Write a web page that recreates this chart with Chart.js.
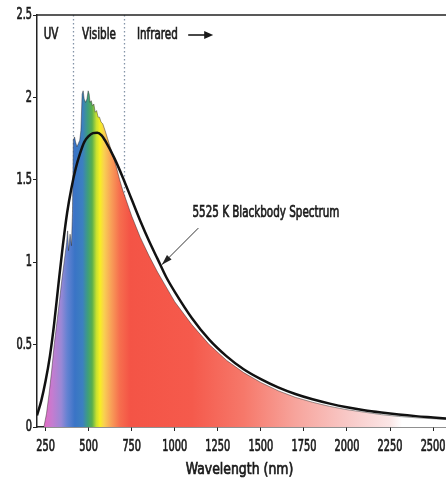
<!DOCTYPE html>
<html>
<head>
<meta charset="utf-8">
<script src="https://cdn.jsdelivr.net/npm/chart.js@4.4.1/dist/chart.umd.min.js"></script>
<style>
  html, body { margin: 0; padding: 0; background: #fff; overflow: hidden; }
  #wrap { width: 446px; height: 486px; }
</style>
</head>
<body>
<div id="wrap"><canvas id="spectrum"></canvas></div>
<script>
// Blackbody curve (5525 K)
const bbNm  = [200, 225, 250, 275, 300, 325, 350, 375, 400, 425, 450, 475, 500, 525, 550, 575, 600, 650, 700, 750, 800, 850, 900, 950, 1000, 1100, 1200, 1300, 1400, 1500, 1600, 1700, 1800, 1900, 2000, 2100, 2200, 2300, 2400, 2500, 2575];
const bbVal = [0.07, 0.16, 0.28, 0.43, 0.63, 0.87, 1.1, 1.3, 1.45, 1.57, 1.66, 1.73, 1.765, 1.783, 1.786, 1.77, 1.73, 1.63, 1.51, 1.38, 1.25, 1.13, 1.02, 0.91, 0.82, 0.66, 0.53, 0.43, 0.35, 0.29, 0.24, 0.2, 0.168, 0.142, 0.12, 0.102, 0.088, 0.076, 0.066, 0.058, 0.052];

// measured (coloured) spectrum
const sunNm  = [240, 255, 270, 285, 300, 315, 330, 345, 360, 372, 378, 383, 392, 400, 406, 411, 418, 424, 432, 440, 448, 455, 462, 468, 474, 482, 490, 497, 503, 508, 515, 522, 530, 538, 546, 555, 563, 572, 582, 595, 610, 625, 640, 660, 680, 700, 750, 800, 850, 900, 950, 1000, 1100, 1200, 1300, 1400, 1500, 1600, 1700, 1800, 1900, 2000, 2100, 2200, 2300, 2400, 2500, 2575];
const sunVal = [0, 0.08, 0.2, 0.34, 0.5, 0.63, 0.76, 0.9, 1.02, 1.12, 1.19, 1.07, 1.17, 1.1, 1.3, 1.74, 1.76, 1.73, 1.7, 1.72, 1.74, 1.8, 2.02, 2.04, 1.99, 1.97, 1.99, 2.04, 2.02, 1.97, 1.98, 1.95, 1.96, 1.91, 1.92, 1.88, 1.88, 1.85, 1.84, 1.8, 1.75, 1.7, 1.65, 1.58, 1.5, 1.43, 1.28, 1.15, 1.04, 0.94, 0.85, 0.76, 0.62, 0.5, 0.405, 0.33, 0.27, 0.22, 0.18, 0.15, 0.125, 0.105, 0.09, 0.075, 0.064, 0.056, 0.05, 0.046];

const xTicks = [250, 500, 750, 1000, 1250, 1500, 1750, 2000, 2250, 2500];
const yTicks = [0, 0.5, 1, 1.5, 2, 2.5];
const bandLines = [410, 708];

// colour of the fill along the wavelength axis
const stops = [
  [240, '#e46cc4'], [290, '#c47cd0'], [340, '#9a88d6'], [375, '#6482d2'],
  [420, '#3a74c6'], [465, '#3c80c0'], [495, '#3e9e7c'], [520, '#5aae4e'],
  [545, '#c8e030'], [565, '#f6ef22'], [590, '#f9cf52'], [630, '#f8a058'],
  [680, '#f66e4e'], [740, '#f45446'], [1100, '#f55a4c'], [1400, '#f6786a'],
  [1700, '#f7a49c'], [2000, '#f8c8c6'], [2250, '#fbe6e6'], [2320, '#ffffff']
];

const FONT = "'DejaVu Sans Condensed', 'DejaVu Sans', sans-serif";
const INK = '#1a1a1a';

// condensed, medium-weight text: the original uses a narrow face
function squeeze(ctx, text, x, y, align, size, sx) {
    ctx.save();
    ctx.font = size + 'px ' + FONT;
    ctx.textAlign = align;
    ctx.translate(x, y);
    ctx.scale(sx, 1);
    ctx.strokeStyle = INK;
    ctx.lineWidth = 0.7;
    ctx.setLineDash([]);
    ctx.fillText(text, 0, 0);
    ctx.strokeText(text, 0, 0);
    ctx.restore();
}

function fillGradient(context) {
    const chart = context.chart;
    const area = chart.chartArea;
    if (!area) return null;
    const x = chart.scales.x;
    const g = chart.ctx.createLinearGradient(area.left, 0, area.right, 0);
    stops.forEach(s => {
        let p = (x.getPixelForValue(s[0]) - area.left) / (area.right - area.left);
        p = Math.min(1, Math.max(0, p));
        g.addColorStop(p, s[1]);
    });
    return g;
}

const extras = {
    id: 'extras',
    beforeDatasetsDraw(chart) {
        const {ctx, chartArea: a, scales: {x}} = chart;
        ctx.save();
        ctx.strokeStyle = '#8494a8';
        ctx.lineWidth = 1.3;
        ctx.setLineDash([1.5, 2.5]);
        bandLines.forEach(v => {
            const px = Math.round(x.getPixelForValue(v)) + 0.5;
            ctx.beginPath();
            ctx.moveTo(px, a.top);
            ctx.lineTo(px, a.bottom);
            ctx.stroke();
        });
        ctx.restore();
    },
    afterDraw(chart) {
        const {ctx, chartArea: a, scales: {x, y}} = chart;
        ctx.save();
        // top border of the box
        ctx.strokeStyle = '#222';
        ctx.lineWidth = 1.5;
        ctx.beginPath();
        ctx.moveTo(a.left, a.top);
        ctx.lineTo(a.right, a.top);
        ctx.stroke();

        ctx.fillStyle = INK;

        // tick labels
        ctx.textBaseline = 'alphabetic';
        xTicks.forEach(v => squeeze(ctx, String(v), x.getPixelForValue(v), a.bottom + 24, 'center', 16, 0.68));
        ctx.textBaseline = 'middle';
        yTicks.forEach(v => squeeze(ctx, String(v), a.left - 5, y.getPixelForValue(v), 'right', 16, 0.68));

        // axis title
        ctx.textBaseline = 'alphabetic';
        squeeze(ctx, 'Wavelength (nm)', (a.left + a.right) / 2 - 2, a.bottom + 47, 'center', 16.5, 0.84);

        // region labels
        ctx.textBaseline = 'middle';
        const ty = a.top + 20;
        squeeze(ctx, 'UV', x.getPixelForValue(282), ty, 'center', 16, 0.72);
        squeeze(ctx, 'Visible', x.getPixelForValue(560), ty, 'center', 16, 0.72);
        squeeze(ctx, 'Infrared', x.getPixelForValue(780), ty, 'left', 16, 0.72);

        // arrow after Infrared
        ctx.strokeStyle = INK;
        ctx.lineWidth = 1.6;
        const ax = x.getPixelForValue(1078);
        ctx.beginPath();
        ctx.moveTo(ax, ty);
        ctx.lineTo(ax + 19, ty);
        ctx.stroke();
        ctx.beginPath();
        ctx.moveTo(ax + 25, ty);
        ctx.lineTo(ax + 16, ty - 4);
        ctx.lineTo(ax + 16, ty + 4);
        ctx.closePath();
        ctx.fill();

        // blackbody label and pointer
        squeeze(ctx, '5525 K Blackbody Spectrum', x.getPixelForValue(1103), y.getPixelForValue(1.3), 'left', 16, 0.72);
        const x0 = x.getPixelForValue(1137), y0 = y.getPixelForValue(1.207);
        const x1 = x.getPixelForValue(925), y1 = y.getPixelForValue(0.985);
        ctx.strokeStyle = '#333';
        ctx.lineWidth = 1;
        ctx.beginPath();
        ctx.moveTo(x0, y0);
        ctx.lineTo(x1, y1);
        ctx.stroke();
        const ang = Math.atan2(y1 - y0, x1 - x0);
        ctx.fillStyle = '#222';
        ctx.beginPath();
        ctx.moveTo(x1, y1);
        ctx.lineTo(x1 - 11 * Math.cos(ang - 0.3), y1 - 11 * Math.sin(ang - 0.3));
        ctx.lineTo(x1 - 11 * Math.cos(ang + 0.3), y1 - 11 * Math.sin(ang + 0.3));
        ctx.closePath();
        ctx.fill();
        ctx.restore();
    }
};

new Chart(document.getElementById('spectrum'), {
    type: 'line',
    data: {
        datasets: [
            {
                label: 'Blackbody',
                data: bbNm.map((n, i) => ({x: n, y: bbVal[i]})),
                borderColor: '#111',
                borderWidth: 2.5,
                pointRadius: 0,
                fill: false,
                cubicInterpolationMode: 'monotone'
            },
            {
                label: 'Spectrum',
                data: sunNm.map((n, i) => ({x: n, y: sunVal[i]})),
                borderColor: 'rgba(40,40,40,0.45)',
                borderWidth: 1,
                pointRadius: 0,
                fill: 'origin',
                backgroundColor: fillGradient,
                tension: 0
            }
        ]
    },
    options: {
        responsive: true,
        maintainAspectRatio: false,
        animation: false,
        layout: { padding: { top: 15, right: 0, left: 0, bottom: 0 } },
        plugins: { legend: { display: false }, tooltip: { enabled: false } },
        scales: {
            x: {
                type: 'linear',
                min: 200,
                max: 2575,
                afterFit: s => { s.height = 59; s.paddingLeft = 0; s.paddingRight = 0; },
                afterBuildTicks: s => { s.ticks = xTicks.map(v => ({value: v})); },
                grid: { drawOnChartArea: false, drawTicks: true, tickLength: 4, color: '#222' },
                border: { display: true, color: '#222', width: 1.5 },
                ticks: { display: false }
            },
            y: {
                min: 0,
                max: 2.5,
                afterFit: s => { s.width = 37; s.paddingTop = 0; s.paddingBottom = 0; },
                afterBuildTicks: s => { s.ticks = yTicks.map(v => ({value: v})); },
                grid: { drawOnChartArea: false, drawTicks: true, tickLength: 4, color: '#222' },
                border: { display: true, color: '#222', width: 1.5 },
                ticks: { display: false }
            }
        }
    },
    plugins: [extras]
});
</script>
</body>
</html>
